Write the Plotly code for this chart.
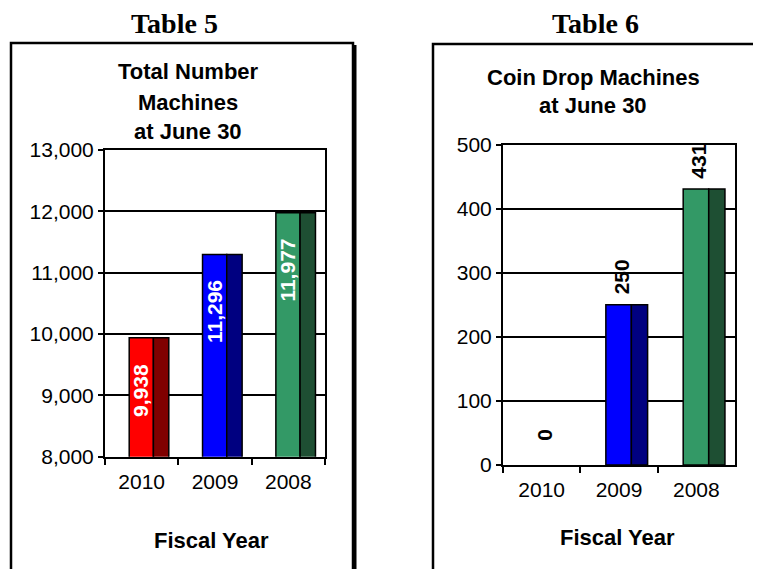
import plotly.graph_objs as go

years = ["2010", "2009", "2008"]
total_machines = [9938, 11296, 11977]
coin_drop = [0, 250, 431]
total_labels = ["9,938", "11,296", "11,977"]
coin_labels = ["0", "250", "431"]
front_colors = ["#FF0000", "#0000FF", "#339966"]
side_colors = ["#800000", "#000080", "#1E4F33"]

W, H = 761, 569
OFF = 8  # page body margin
SANS = "Liberation Sans, Arial, sans-serif"
SERIF = "Liberation Serif, Times New Roman, serif"


def px(x):
    return (x - OFF) / W


def py(y):
    return 1 - (y - OFF) / H


def add_bars(fig, values, xa, ya):
    # front face and darker side face give the fake 3d look
    outline = [1.5 if v else 0 for v in values]
    fig.add_trace(go.Bar(x=years, y=values, width=0.33, offset=-0.17,
                         marker=dict(color=front_colors, line=dict(color="black", width=outline)),
                         xaxis=xa, yaxis=ya, hoverinfo="x+y"))
    fig.add_trace(go.Bar(x=years, y=values, width=0.21, offset=0.16,
                         marker=dict(color=side_colors, line=dict(color="black", width=outline)),
                         xaxis=xa, yaxis=ya, hoverinfo="skip"))


fig = go.Figure()
add_bars(fig, total_machines, "x", "y")
add_bars(fig, coin_drop, "x2", "y2")

axis_font = dict(family=SANS, size=21, color="black")
xcommon = dict(type="category", range=[-0.5, 2.5], showline=True, linecolor="black", linewidth=2,
               mirror=True, ticks="outside", tickson="boundaries", ticklen=6, tickwidth=2,
               tickcolor="black", tickfont=axis_font, ticklabelstandoff=5, showgrid=False,
               fixedrange=True, automargin=False)
ycommon = dict(showline=True, linecolor="black", linewidth=2, mirror=True, ticks="outside",
               ticklen=5, tickwidth=2, tickcolor="black", tickfont=axis_font, showgrid=True,
               gridcolor="black", gridwidth=1.8, zeroline=False, fixedrange=True, automargin=False)

fig.update_layout(
    width=W, height=H, margin=dict(l=0, r=0, t=0, b=0, autoexpand=False),
    paper_bgcolor="white", plot_bgcolor="white",
    font=dict(family=SANS, color="black"),
    barmode="overlay", showlegend=False,
    xaxis=dict(xcommon, domain=[px(105), px(325)], anchor="y"),
    yaxis=dict(ycommon, domain=[py(456.7), py(150)], anchor="x", range=[8000, 13000],
               dtick=1000, tickformat=","),
    xaxis2=dict(xcommon, domain=[px(503), px(735)], anchor="y2"),
    yaxis2=dict(ycommon, domain=[py(465), py(144.7)], anchor="x2", range=[0, 500], dtick=100),
)

# boxes around each table
line = dict(color="black", width=2.5)
fig.add_shape(type="rect", xref="paper", yref="paper", x0=px(11), x1=px(353), y0=py(620), y1=py(43),
              line=line, layer="below")
fig.add_shape(type="line", xref="paper", yref="paper", x0=px(355), x1=px(355), y0=py(620), y1=py(45),
              line=dict(color="black", width=3), layer="below")
fig.add_shape(type="rect", xref="paper", yref="paper", x0=px(433), x1=px(800), y0=py(620), y1=py(44),
              line=line, layer="below")

notes = []
# headings
notes.append(dict(text="<b>Table 5</b>", x=px(174), y=py(23), font=dict(family=SERIF, size=28, color="black")))
notes.append(dict(text="<b>Table 6</b>", x=px(595), y=py(23), font=dict(family=SERIF, size=28, color="black")))

bold = dict(family=SANS, size=22, color="black")
for txt, yy in [("Total Number", 72), ("Machines", 102), ("at June 30", 132)]:
    notes.append(dict(text="<b>" + txt + "</b>", x=px(188), y=py(yy), font=bold))
for txt, yy in [("Coin Drop Machines", 77), ("at June 30", 106)]:
    notes.append(dict(text="<b>" + txt + "</b>", x=px(593), y=py(yy), font=bold))
notes.append(dict(text="<b>Fiscal Year</b>", x=px(211), y=py(540), font=bold))
notes.append(dict(text="<b>Fiscal Year</b>", x=px(617), y=py(537), font=bold))

for n in notes:
    n.update(xref="paper", yref="paper", showarrow=False, xanchor="center", yanchor="middle")
    fig.add_annotation(n)

# value labels (x given as category index)
for i, (v, lab) in enumerate(zip(total_machines, total_labels)):
    fig.add_annotation(x=i, y=v, xref="x", yref="y", text="<b>" + lab + "</b>", textangle=-90,
                       showarrow=False, yanchor="top", yshift=-24, xshift=-1,
                       font=dict(family=SANS, size=21, color="white"))
for i, (v, lab) in enumerate(zip(coin_drop, coin_labels)):
    fig.add_annotation(x=i, y=v, xref="x2", yref="y2", text="<b>" + lab + "</b>", textangle=-90,
                       showarrow=False, yanchor="bottom", yshift=8 if v else 22, xshift=2,
                       font=dict(family=SANS, size=21, color="black"))

fig.write_html("out.html")
